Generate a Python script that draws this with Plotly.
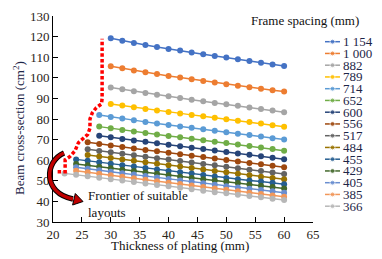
import plotly.graph_objects as go

# ---------------- data ----------------
thickness = [22, 24, 26, 28, 30, 32, 34, 36, 38, 40, 42, 44, 46, 48, 50, 52, 54, 56, 58, 60]

spacing_labels = ["1 154", "1 000", "882", "789", "714", "652", "600", "556",
                  "517", "484", "455", "429", "405", "385", "366"]
start_thickness = [30, 30, 30, 30, 28, 28, 28, 26, 26, 26, 24, 24, 24, 24, 22]

s1154 = [119.2, 118.0, 116.9, 115.9, 115.0, 114.0, 113.2, 112.3, 111.4, 110.6, 109.8, 109.0, 108.2, 107.3, 106.5, 105.7]
s1000 = [105.6, 104.6, 103.6, 102.7, 101.8, 100.9, 100.1, 99.3, 98.5, 97.7, 96.9, 96.2, 95.4, 94.7, 94.0, 93.3]
s882 = [95.3, 94.4, 93.5, 92.6, 91.8, 91.0, 90.2, 89.4, 88.6, 87.8, 87.1, 86.4, 85.6, 84.9, 84.1, 83.3]
s789 = [87.3, 86.5, 85.7, 84.9, 84.1, 83.4, 82.7, 82.0, 81.3, 80.6, 79.9, 79.2, 78.5, 77.8, 77.0, 76.2]
s714 = [81.9, 81.0, 80.2, 79.4, 78.6, 77.8, 77.1, 76.4, 75.7, 75.0, 74.3, 73.6, 72.9, 72.2, 71.5, 70.7, 70.0]
s652 = [76.3, 75.5, 74.7, 73.9, 73.2, 72.5, 71.8, 71.1, 70.4, 69.7, 69.0, 68.3, 67.6, 66.9, 66.2, 65.4, 64.6]
s600 = [71.9, 71.1, 70.3, 69.6, 68.9, 68.2, 67.5, 66.8, 66.1, 65.4, 64.7, 64.0, 63.3, 62.6, 61.9, 61.2, 60.5]
s556 = [68.7, 67.9, 67.1, 66.4, 65.7, 65.0, 64.3, 63.6, 62.9, 62.2, 61.5, 60.8, 60.1, 59.4, 58.7, 58.0, 57.3, 56.6]
s517 = [65.3, 64.5, 63.8, 63.1, 62.4, 61.7, 61.0, 60.3, 59.6, 58.9, 58.2, 57.5, 56.8, 56.1, 55.4, 54.7, 54.0, 53.3]
s484 = [62.5, 61.8, 61.1, 60.4, 59.7, 59.0, 58.3, 57.6, 56.9, 56.2, 55.5, 54.8, 54.1, 53.4, 52.7, 52.0, 51.4, 50.7]
s455 = [60.4, 59.7, 59.0, 58.3, 57.6, 56.9, 56.2, 55.5, 54.8, 54.1, 53.5, 52.8, 52.1, 51.4, 50.8, 50.2, 49.6, 49.0, 48.3]
s429 = [58.2, 57.5, 56.8, 56.1, 55.4, 54.7, 54.0, 53.4, 52.7, 52.0, 51.4, 50.7, 50.1, 49.5, 48.9, 48.2, 47.6, 47.0, 46.3]
s405 = [56.6, 55.8, 55.1, 54.4, 53.7, 53.0, 52.3, 51.6, 50.9, 50.2, 49.5, 48.8, 48.1, 47.4, 46.8, 46.1, 45.5, 44.9, 44.2]
s385 = [54.9, 54.1, 53.4, 52.7, 52.0, 51.2, 50.5, 49.8, 49.1, 48.4, 47.7, 47.0, 46.3, 45.6, 44.9, 44.2, 43.6, 42.9, 42.3]
s366 = [53.6, 52.9, 52.2, 51.5, 50.8, 50.1, 49.4, 48.7, 48.0, 47.3, 46.6, 45.9, 45.2, 44.5, 43.9, 43.2, 42.6, 42.0, 41.3, 40.7]

series_values = [s1154, s1000, s882, s789, s714, s652, s600, s556,
                 s517, s484, s455, s429, s405, s385, s366]

frontier_x = [20.8, 22.1, 22.1, 22.1, 22.9, 23.8, 24.4, 25.2, 26.0, 26.4, 26.4, 26.8, 27.5, 28.4, 28.5, 28.5]
frontier_y = [54.4, 54.4, 57.5, 60.2, 61.7, 64.5, 68.5, 70.8, 72.5, 75.5, 80.0, 83.0, 85.5, 87.3, 90.0, 119.0]

colors = ["#4472C4", "#ED7D31", "#A5A5A5", "#FFC000", "#5B9BD5", "#70AD47",
          "#264478", "#9E480E", "#636363", "#997300", "#255E91", "#43682B",
          "#698ED0", "#F1975A", "#B7B7B7"]

# ---------------- layout geometry ----------------
# The page body has a default 8px margin, so the figure is drawn 8px right/down.
W, H = 382, 259
OFF = 8
PL, PT, PB, PR = 53, 16, 222, 382          # plot-area / paper edges in window pixels
ML, MT = PL - OFF, PT - OFF
MB = H - (PB - OFF)
MR = W - (PR - OFF)
PW = W - ML - MR
PH = H - MT - MB
FONT = "Liberation Serif, Times New Roman, serif"


def px(x):
    return (x - PL) / PW


def py(y):
    return (PB - y) / PH


fig = go.Figure()

for lab, start, vals, col in zip(spacing_labels, start_thickness, series_values, colors):
    i0 = thickness.index(start)
    xs = thickness[i0:i0 + len(vals)]
    fig.add_trace(go.Scatter(
        x=xs, y=vals, mode="lines+markers", name=lab,
        line=dict(color=col, width=1.5),
        marker=dict(color=col, size=6),
        showlegend=False,
    ))

fig.add_trace(go.Scatter(
    x=frontier_x, y=frontier_y, mode="lines",
    line=dict(color="#FF0000", width=3.5, dash="3.5px,2.2px"),
    showlegend=False,
))

annotations = []

# manual compact legend
for i, (lab, col) in enumerate(zip(spacing_labels, colors)):
    yy = 41.7 + i * 11.75
    fig.add_trace(go.Scatter(
        x=[0, 0.5, 1], y=[yy, yy, yy], xaxis="x2", yaxis="y2",
        mode="lines+markers",
        line=dict(color=col, width=1.5),
        marker=dict(color=col, size=[0, 5, 0]),
        cliponaxis=False, showlegend=False, hoverinfo="skip",
    ))
    annotations.append(dict(
        text=lab, xref="paper", yref="paper", x=px(340.5), y=py(yy),
        xanchor="left", yanchor="middle", showarrow=False,
        font=dict(family=FONT, size=13, color="#1d2547")))

# curved arrow
arc = "M {} {} C {} {} {} {} {} {}".format(
    px(64), py(153), px(45), py(161), px(42), py(193), px(73), py(199))
head = "M {} {} L {} {} L {} {} Z".format(
    px(83), py(201.5), px(72.6), py(205), px(75.3), py(193.5))

shapes = [
    dict(type="path", xref="paper", yref="paper", path=arc,
         line=dict(color="#000000", width=5.5), layer="above"),
    dict(type="path", xref="paper", yref="paper", path=arc,
         line=dict(color="#C00000", width=3.5), layer="above"),
    dict(type="path", xref="paper", yref="paper", path=head,
         fillcolor="#C00000", line=dict(color="#000000", width=1), layer="above"),
]

annotations += [
    dict(text="Frontier of suitable<br>layouts", xref="paper", yref="paper",
         x=px(86), y=py(204), xanchor="left", yanchor="middle", align="left",
         showarrow=False, font=dict(family=FONT, size=13, color="#111111")),
    dict(text="Frame spacing (mm)", xref="paper", yref="paper",
         x=px(305), y=py(21), xanchor="center", yanchor="middle",
         showarrow=False, font=dict(family=FONT, size=13, color="#111111")),
    dict(text="Thickness of plating (mm)", xref="paper", yref="paper",
         x=px(180), y=py(245), xanchor="center", yanchor="middle",
         showarrow=False, font=dict(family=FONT, size=13, color="#111111")),
    dict(text="Beam cross-section (cm<sup>2</sup>)", xref="paper", yref="paper",
         x=px(19), y=py(128), xanchor="center", yanchor="middle", textangle=-90,
         showarrow=False, font=dict(family=FONT, size=13, color="#1d2547")),
]

fig.update_layout(
    template="none",
    width=W, height=H, autosize=False,
    margin=dict(l=ML, r=MR, t=MT, b=MB, pad=0, autoexpand=False),
    paper_bgcolor="white", plot_bgcolor="white",
    font=dict(family=FONT, size=13, color="#2a2418"),
    showlegend=False,
    xaxis=dict(domain=[0, px(313)], range=[20, 65], dtick=5, tick0=20,
               showgrid=False, zeroline=False, showline=True, linecolor="black",
               linewidth=1, ticks="inside", ticklen=5, tickcolor="black",
               automargin=False,
               tickfont=dict(family=FONT, size=13, color="#2a2418")),
    yaxis=dict(domain=[0, 1], range=[30, 130], dtick=10, tick0=30,
               showgrid=False, zeroline=False, showline=True, linecolor="black",
               linewidth=1, ticks="inside", ticklen=5, tickcolor="black",
               automargin=False,
               tickfont=dict(family=FONT, size=13, color="#2a2418")),
    xaxis2=dict(domain=[px(325), px(340)], range=[0, 1], visible=False,
                anchor="y2", fixedrange=True, automargin=False),
    yaxis2=dict(domain=[0, 1], range=[PB, PT], visible=False,
                anchor="x2", fixedrange=True, automargin=False),
    shapes=shapes,
    annotations=annotations,
)

fig.write_html("out.html")
